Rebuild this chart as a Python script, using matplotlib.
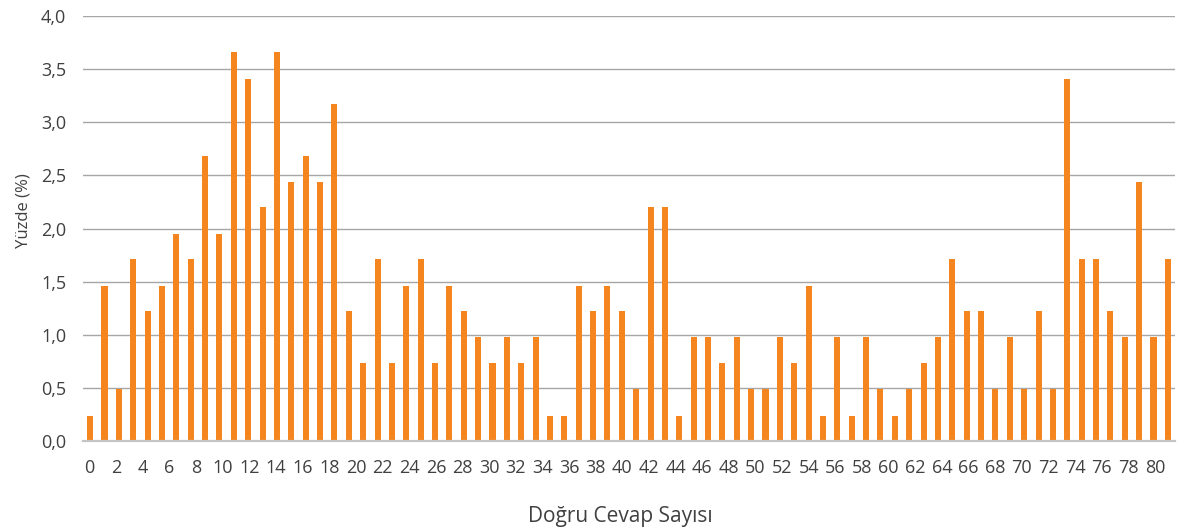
import numpy as np
import matplotlib
matplotlib.use("Agg")
import matplotlib.pyplot as plt

# Yüzde değerleri (her doğru cevap sayısı için)
yuzde = [0.24, 1.46, 0.49, 1.71, 1.22, 1.46, 1.95, 1.71, 2.68, 1.95,
         3.66, 3.41, 2.20, 3.66, 2.44, 2.68, 2.44, 3.17, 1.22, 0.73,
         1.71, 0.73, 1.46, 1.71, 0.73, 1.46, 1.22, 0.98, 0.73, 0.98,
         0.73, 0.98, 0.24, 0.24, 1.46, 1.22, 1.46, 1.22, 0.49, 2.20,
         2.20, 0.24, 0.98, 0.98, 0.73, 0.98, 0.49, 0.49, 0.98, 0.73,
         1.46, 0.24, 0.98, 0.24, 0.98, 0.49, 0.24, 0.49, 0.73, 0.98,
         1.71, 1.22, 1.22, 0.49, 0.98, 0.49, 1.22, 0.49, 3.41, 1.71,
         1.71, 1.22, 0.98, 2.44, 0.98, 1.71]
x_etiketler = list(range(0, 81, 2))
y_ticks = [0.0, 0.5, 1.0, 1.5, 2.0, 2.5, 3.0, 3.5, 4.0]

plt.rcParams['font.family'] = ['Open Sans', 'DejaVu Sans']
metin_renk = "#404040"

fig = plt.figure(figsize=(11.8, 5.3), dpi=100)
ax = fig.add_axes([0.0703, 0.1679, 0.9255, 0.8019])

n = len(yuzde)
ax.bar(np.arange(n), yuzde, width=0.42, color="#F5851F", zorder=3)
ax.set_xlim(-0.5, n - 0.5)
ax.set_ylim(0, 4)

# etiket ekseni 82 kategori üzerine yayılmış
etiket_kat = 82
konum = [(k + 0.5) * n / etiket_kat - 0.5 for k in x_etiketler]
ax.set_xticks(konum)
ax.set_xticklabels([str(k) for k in x_etiketler])
ax.set_yticks(y_ticks)
ax.set_yticklabels([f"{v:.1f}".replace(".", ",") for v in y_ticks])

ax.tick_params(axis="both", length=0, labelsize=13, colors=metin_renk)
ax.tick_params(axis="x", pad=13)
ax.tick_params(axis="y", pad=12)

ax.grid(axis="y", color="#a6a6a6", linewidth=1.0, zorder=0)
for s in ["top", "right", "left"]:
    ax.spines[s].set_visible(False)
ax.spines["bottom"].set_color("#c4c4c4")
ax.spines["bottom"].set_linewidth(1.6)
ax.spines["bottom"].set_zorder(4)

ax.set_xlabel("Doğru Cevap Sayısı", fontsize=15, color=metin_renk)
ax.set_ylabel("Yüzde (%)", fontsize=12, color=metin_renk)
ax.xaxis.set_label_coords(0.492, -0.152)
ax.yaxis.set_label_coords(-0.047, 0.543)

fig.savefig("out.png", dpi=100)
